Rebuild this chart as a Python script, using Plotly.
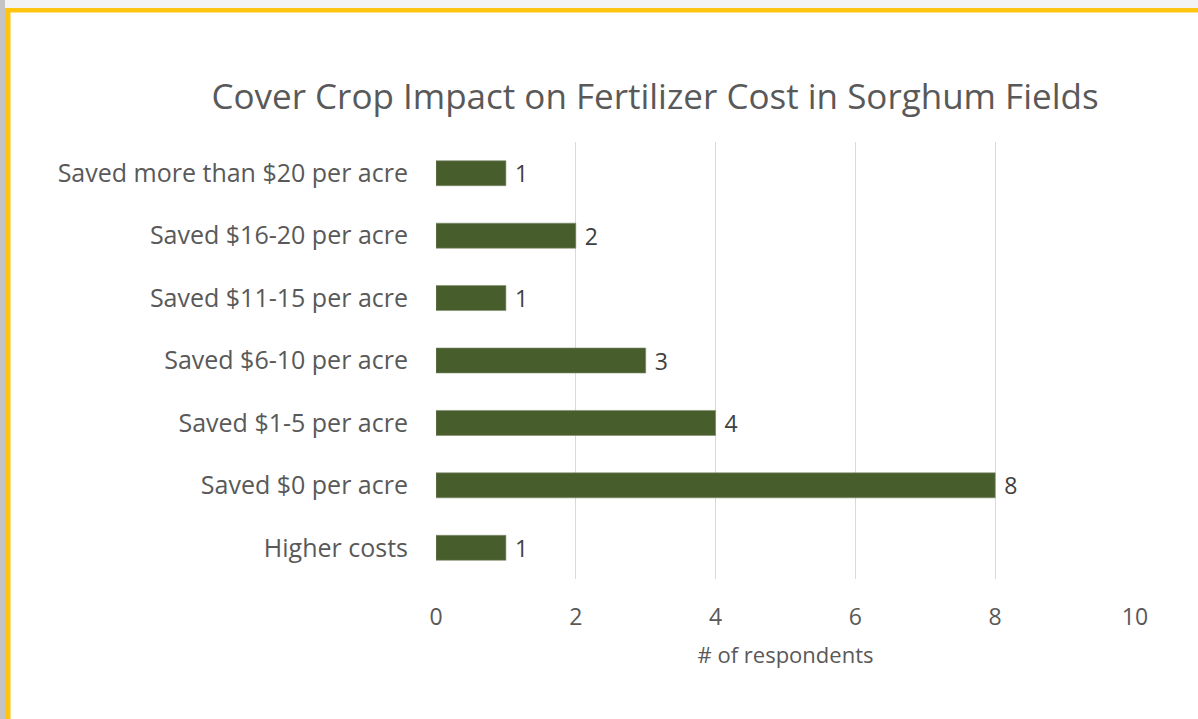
import plotly.graph_objects as go

# Survey responses, listed bottom to top
categories = [
    "Higher costs",
    "Saved $0 per acre",
    "Saved $1-5 per acre",
    "Saved $6-10 per acre",
    "Saved $11-15 per acre",
    "Saved $16-20 per acre",
    "Saved more than $20 per acre",
]
respondents = [1, 8, 4, 3, 1, 2, 1]
x_ticks = [0, 2, 4, 6, 8, 10]

FONT = "Open Sans, Lato, sans-serif"
W, H = 1198, 719
L, R, T, B = 436, 63, 142, 140
pw, ph = W - L - R, H - T - B


def px(x):
    return (x - L) / pw


def py(y):
    return (H - B - y) / ph


fig = go.Figure(
    go.Bar(
        x=respondents,
        y=categories,
        orientation="h",
        width=0.4,
        marker=dict(color="#475D2B", line=dict(color="#7d8a6a", width=0.6)),
        text=respondents,
        texttemplate=" %{x}",
        textposition="outside",
        constraintext="none",
        textfont=dict(family=FONT, size=23, color="#404040"),
        cliponaxis=False,
    )
)

shapes = [
    # grey shadow strips along the top and left edges
    dict(type="rect", xref="paper", yref="paper", x0=px(0), x1=px(W), y0=py(0), y1=py(8),
         fillcolor="#f3f3f3", line_width=0, layer="below"),
    dict(type="rect", xref="paper", yref="paper", x0=px(0), x1=px(5), y0=py(0), y1=py(H),
         fillcolor="#c4c4c4", line_width=0, layer="below"),
    # gold frame
    dict(type="rect", xref="paper", yref="paper", x0=px(5), x1=px(W), y0=py(8), y1=py(12.5),
         fillcolor="#FFC40F", line_width=0, layer="below"),
    dict(type="rect", xref="paper", yref="paper", x0=px(5), x1=px(10.5), y0=py(8), y1=py(H),
         fillcolor="#FFC40F", line_width=0, layer="below"),
]

fig.update_layout(
    width=W,
    height=H,
    margin=dict(l=L, r=R, t=T, b=B, pad=0),
    paper_bgcolor="white",
    plot_bgcolor="white",
    showlegend=False,
    shapes=shapes,
    title=dict(
        text="Cover Crop Impact on Fertilizer Cost in Sorghum Fields",
        x=655 / W,
        xanchor="center",
        y=1 - 97 / H,
        yanchor="middle",
        font=dict(family=FONT, size=35, color="#595959"),
    ),
    xaxis=dict(
        range=[0, 10],
        tickvals=x_ticks,
        showgrid=True,
        gridcolor="#d9d9d9",
        gridwidth=1,
        zeroline=False,
        showline=False,
        ticks="",
        tickfont=dict(family=FONT, size=23, color="#595959"),
        ticklabelstandoff=22,
        title=dict(
            text="# of respondents",
            font=dict(family=FONT, size=22, color="#595959"),
            standoff=16,
        ),
    ),
    yaxis=dict(
        range=[-0.5, 6.5],
        showgrid=False,
        zeroline=False,
        showline=False,
        ticks="",
        ticklabelstandoff=27,
        tickfont=dict(family=FONT, size=25, color="#595959"),
    ),
)

fig.write_html("out.html")
